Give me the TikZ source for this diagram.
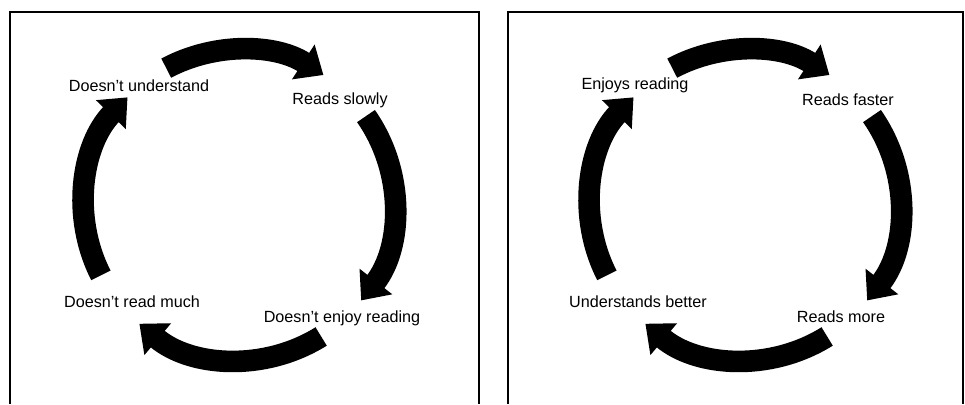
\documentclass[tikz,border=0pt]{standalone}
\usepackage{fontspec}
\setmainfont{Liberation Sans}
\usepackage{tikz}
\usetikzlibrary{arrows.meta}

\begin{document}
\begin{tikzpicture}[
  x=0.025cm, y=0.025cm,
  every node/.style={font=\fontsize{11.5}{13}\selectfont, inner sep=1pt},
  panel/.style={draw=black, line width=1.1pt},
  cyc/.style={line width=0.54cm, black,
              -{Triangle[length=0.6cm, width=1.0cm]}},
]
  \useasboundingbox (0,0) rectangle (965,404);

  % vicious circle
  \draw[panel] (10,0) |- (479,392) -- (479,0);
  \coordinate (lc) at (239,199);
  \node (lund)  at (139,318) {Doesn't understand};
  \node (lslow) at (340,304) {Reads slowly};
  \node (lenj)  at (342,86)  {Doesn't enjoy reading};
  \node (lmuch) at (132,102) {Doesn't read much};
  \draw[cyc] ([shift={(118:155)}]lc) arc[start angle=118, end angle=57, radius=155];
  \draw[cyc] ([shift={(35:155)}]lc) arc[start angle=35, end angle=-38, radius=155];
  \draw[cyc] ([shift={(-58:155)}]lc) arc[start angle=-58, end angle=-130, radius=155];
  \draw[cyc] ([shift={(207:155)}]lc) arc[start angle=207, end angle=136, radius=155];

  % virtuous circle
  \draw[panel] (508,0) |- (963,392) -- (963,0);
  \coordinate (rc) at (745,199);
  \node (renj)  at (635,319) {Enjoys reading};
  \node (rfast) at (848,304) {Reads faster};
  \node (rmore) at (841,87)  {Reads more};
  \node (rund)  at (638,102) {Understands better};
  \draw[cyc] ([shift={(118:155)}]rc) arc[start angle=118, end angle=57, radius=155];
  \draw[cyc] ([shift={(35:155)}]rc) arc[start angle=35, end angle=-38, radius=155];
  \draw[cyc] ([shift={(-58:155)}]rc) arc[start angle=-58, end angle=-130, radius=155];
  \draw[cyc] ([shift={(207:155)}]rc) arc[start angle=207, end angle=136, radius=155];
\end{tikzpicture}
\end{document}
